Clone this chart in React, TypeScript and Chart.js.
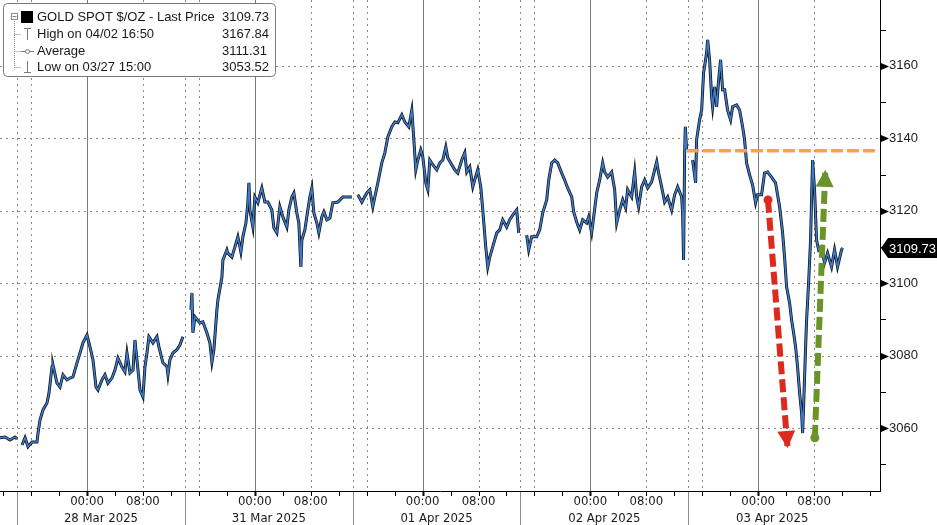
import React, { useEffect, useRef } from 'react';
import { Chart, registerables } from 'chart.js';

Chart.register(...registerables);

// ---------- data ----------
const TITLE = 'GOLD SPOT $/OZ - Last Price';
const legendLabels = ['GOLD SPOT $/OZ - Last Price', 'High on 04/02 16:50', 'Average', 'Low on 03/27 15:00'];
const legendValues = ['3109.73', '3167.84', '3111.31', '3053.52'];
const lastPrice = 3109.73;

// hours relative to 28 Mar 00:00 (weekend removed, 24h per trading day)
const s0Hours = [-12.44, -11.72, -11.01, -10.29, -10.0];
const s0Prices = [3057.3, 3057.5, 3056.7, 3057.5, 3057.0];

const s1Hours = [-9.29, -8.86, -8.43, -7.86, -7.15, -7.0, -6.72, -6.29, -5.72, -5.43, -5.0, -4.86, -4.29, -3.86, -3.43, -2.86, -2.43, -2.0, -1.43, -1.0, -0.57, 0, 0.43, 0.86, 1.29, 1.57, 2.14, 2.57, 3.0, 3.57, 4.0, 4.43, 5.0, 5.43, 5.72, 6.15, 6.58, 6.86, 7.15, 7.58, 8.0, 8.29, 8.58, 8.86, 9.43, 10.0, 10.29, 10.86, 11.44, 11.58, 11.86, 12.29, 12.86, 13.29, 13.72];
const s1Prices = [3055.3, 3057.3, 3054.8, 3056.1, 3056.1, 3058.6, 3062.2, 3065.0, 3066.9, 3069.7, 3076.9, 3077.4, 3072.4, 3071.3, 3074.7, 3073.3, 3073.8, 3074.1, 3078.0, 3080.7, 3083.5, 3085.7, 3082.4, 3078.8, 3071.3, 3070.5, 3073.3, 3074.7, 3072.4, 3073.8, 3076.0, 3079.3, 3076.9, 3075.5, 3080.7, 3075.2, 3076.0, 3084.3, 3078.8, 3070.5, 3068.6, 3076.9, 3080.7, 3085.2, 3083.5, 3085.2, 3082.4, 3078.0, 3076.9, 3074.7, 3078.8, 3080.7, 3081.6, 3082.9, 3085.2];

const s2Hours = [14.87, 15.01, 15.15, 15.44, 16.15, 16.58, 17.15, 17.58, 17.87, 18.15, 18.58, 18.73, 19.30, 19.44, 20.01, 20.15, 20.73, 21.16, 21.58, 22.01, 22.30, 22.73, 23.01, 23.16, 23.30, 23.73, 24.01, 24.44, 24.73, 25.01, 25.44, 25.87, 26.44, 26.73, 27.16, 27.59, 28.02, 28.59, 28.87, 29.30, 29.59, 30.02, 30.30, 30.59, 30.73, 31.16, 31.59, 31.88, 32.16, 32.45, 32.88, 33.16, 33.59, 33.88, 34.31, 34.74, 35.16, 35.88, 36.59, 37.31, 37.88];
const s2Prices = [3092.6, 3097.3, 3086.3, 3090.7, 3089.0, 3089.3, 3086.3, 3083.5, 3078.2, 3081.6, 3092.6, 3095.4, 3101.7, 3106.4, 3109.2, 3108.3, 3107.2, 3110.0, 3112.8, 3108.6, 3112.8, 3116.6, 3122.2, 3127.7, 3120.2, 3115.5, 3123.8, 3122.2, 3124.4, 3126.3, 3122.4, 3122.4, 3120.2, 3115.3, 3113.9, 3121.1, 3118.3, 3115.5, 3120.2, 3123.8, 3124.9, 3119.4, 3116.6, 3104.5, 3111.9, 3114.7, 3120.2, 3123.8, 3126.3, 3119.4, 3116.6, 3113.9, 3118.3, 3119.7, 3117.5, 3118.0, 3122.2, 3122.4, 3123.8, 3123.8, 3123.8];

const s3Hours = [38.74, 39.31, 40.02, 40.45, 40.88, 41.17, 41.60, 42.17, 42.60, 43.03, 43.60, 44.03, 44.46, 45.03, 45.46, 46.03, 46.46, 46.75, 47.03, 47.32, 47.74, 48.03, 48.46, 48.75, 49.03, 49.46, 50.03, 50.46, 50.89, 51.32, 51.60, 52.17, 52.60, 53.03, 53.60, 54.03, 54.32, 54.75, 55.18, 55.46, 55.89, 56.32, 56.61, 57.03, 57.32, 57.61, 58.03, 58.61, 59.03, 59.46, 60.03, 60.46, 60.89, 61.46, 61.75];
const s3Prices = [3124.4, 3122.4, 3124.9, 3125.8, 3121.1, 3123.8, 3127.7, 3133.2, 3136.0, 3140.4, 3143.2, 3144.5, 3144.3, 3146.5, 3144.5, 3143.2, 3147.8, 3139.6, 3131.3, 3134.0, 3136.8, 3134.9, 3127.7, 3125.8, 3134.0, 3132.7, 3131.3, 3133.2, 3134.0, 3137.6, 3134.6, 3132.7, 3131.3, 3130.4, 3134.0, 3136.0, 3130.7, 3132.1, 3126.6, 3128.5, 3131.3, 3126.6, 3120.2, 3110.0, 3104.5, 3107.2, 3110.0, 3113.9, 3114.7, 3117.5, 3115.5, 3117.5, 3118.8, 3120.2, 3113.9];

const s4Hours = [62.89, 63.18, 63.60, 64.32, 64.75, 65.18, 65.75, 66.04, 66.47, 66.90, 67.32, 67.90, 68.32, 68.75, 69.33, 69.61, 70.04, 70.47, 70.90, 71.47, 71.76, 72.18, 72.47, 72.90, 73.33, 73.76, 74.04, 74.47, 75.04, 75.47, 75.76, 76.19, 76.62, 77.04, 77.33, 77.90, 78.33, 78.62, 78.90, 79.33, 79.76, 80.19, 80.76, 81.19, 81.48, 81.76, 82.19, 82.62, 83.05, 83.62, 84.05, 84.48, 85.05, 85.19, 85.33, 85.48, 85.58, 85.76];
const s4Prices = [3113.3, 3109.2, 3112.8, 3112.8, 3114.7, 3119.4, 3123.0, 3128.5, 3133.2, 3134.0, 3133.2, 3130.4, 3128.5, 3126.3, 3123.8, 3119.7, 3116.9, 3114.7, 3117.5, 3116.6, 3118.3, 3113.9, 3118.3, 3124.9, 3128.5, 3133.2, 3130.7, 3129.3, 3130.7, 3125.8, 3116.6, 3120.2, 3123.0, 3120.8, 3125.8, 3123.8, 3130.7, 3123.8, 3121.1, 3126.6, 3128.5, 3126.3, 3128.0, 3131.3, 3133.5, 3130.4, 3126.6, 3122.4, 3123.8, 3120.2, 3124.4, 3126.6, 3123.8, 3119.4, 3106.4, 3136.0, 3143.2, 3136.8];

const s5Hours = [86.62, 87.05, 87.19, 87.62, 87.91, 88.19, 88.62, 88.77, 89.05, 89.34, 89.48, 89.77, 90.05, 90.34, 90.62, 90.91, 91.20, 91.62, 92.05, 92.34, 92.91, 93.34, 93.77, 94.05, 94.34, 94.77, 95.20, 95.63, 95.91, 96.48, 96.91, 97.34, 97.91, 98.48, 99.06, 99.49, 99.77, 100.06, 100.49, 100.78, 101.06, 101.35, 101.63, 101.92, 102.21, 102.35, 102.49, 102.78, 102.92, 103.21, 103.49, 103.64, 103.78, 104.06, 104.35, 104.64, 105.06, 105.49, 105.92, 106.49, 106.92, 107.35, 107.92, 108.06];
const s5Prices = [3134.0, 3127.7, 3139.6, 3145.1, 3147.8, 3158.1, 3163.6, 3167.2, 3161.7, 3151.4, 3148.7, 3154.2, 3148.7, 3156.1, 3161.7, 3153.4, 3153.4, 3147.8, 3145.1, 3148.7, 3149.2, 3147.8, 3143.2, 3139.6, 3133.2, 3129.9, 3127.1, 3122.2, 3124.4, 3124.4, 3130.4, 3130.7, 3129.3, 3127.7, 3121.1, 3113.9, 3107.2, 3099.0, 3094.5, 3089.8, 3086.3, 3082.4, 3076.9, 3069.7, 3064.2, 3058.6, 3065.8, 3082.4, 3089.8, 3100.1, 3111.9, 3123.8, 3134.0, 3125.8, 3111.9, 3109.2, 3110.0, 3105.6, 3108.3, 3104.5, 3109.2, 3104.5, 3109.2, 3109.73];

// axis
const dayLabels = ['28 Mar 2025', '31 Mar 2025', '01 Apr 2025', '02 Apr 2025', '03 Apr 2025'];
const dayCenters = [2, 26, 50, 74, 98];
const midnights = [0, 24, 48, 72, 96];
const mornings = [8, 32, 56, 80, 104];
const sessionBreaks = [-10, 14, 38, 62, 86];
const sessionMarks = [-8, 16, 40, 64, 88];
const xMinorTicks = [-12, -8, -4, 0, 4, 8, 12, 16, 20, 24, 28, 32, 36, 40, 44, 48, 52, 56, 60, 64, 68, 72, 76, 80, 84, 88, 92, 96, 100, 104, 108, 112];
const yTicks = [3050, 3060, 3070, 3080, 3090, 3100, 3110, 3120, 3130, 3140, 3150, 3160, 3170];
const yLabelTicks = [3060, 3080, 3100, 3120, 3140, 3160];
const X_MIN = -12.44;
const X_MAX = 113.42;
const Y_MIN = 3042.6;
const Y_MAX = 3178.2;

// annotations
const resistanceHours = [85.8, 112.9];
const resistanceLevel = 3136.6;
const redArrowHours = [97.4, 100.2];
const redArrowPrices = [3123.0, 3054.5];
const greenArrowHours = [104.1, 105.6];
const greenArrowPrices = [3057.3, 3131.3];

const RED = '#dc2a1f';
const GREEN = '#6a9427';
const ORANGE = '#f2a541';
const BLUE = '#3b7dd0';
const AXIS_FONT = "'DejaVu Sans Condensed', 'Liberation Sans Narrow', 'DejaVu Sans', sans-serif";
const LABEL_FONT = "'Liberation Sans', Arial, sans-serif";

const sessions: [number[], number[]][] = [
  [s0Hours, s0Prices], [s1Hours, s1Prices], [s2Hours, s2Prices],
  [s3Hours, s3Prices], [s4Hours, s4Prices], [s5Hours, s5Prices],
];

function buildPoints() {
  const pts: { x: number; y: number | null }[] = [];
  sessions.forEach(([hs, ps], i) => {
    if (i > 0) {
      const prev = sessions[i - 1][0];
      pts.push({ x: (prev[prev.length - 1] + hs[0]) / 2, y: null });
    }
    hs.forEach((h, j) => pts.push({ x: h, y: ps[j] }));
  });
  return pts;
}

const bgPlugin = {
  id: 'bg',
  beforeDraw(chart: any) {
    const { ctx, width, height } = chart;
    ctx.save();
    ctx.fillStyle = '#ffffff';
    ctx.fillRect(0, 0, width, height);
    ctx.restore();
  },
};

const gridPlugin = {
  id: 'grid',
  beforeDatasetsDraw(chart: any) {
    const { ctx, chartArea: a, scales } = chart;
    const xs = scales.x;
    const ys = scales.y;
    ctx.save();
    ctx.lineWidth = 1;
    // horizontal dotted
    ctx.strokeStyle = '#8a8a8a';
    ctx.setLineDash([2, 4]);
    yLabelTicks.forEach((v) => {
      const py = Math.round(ys.getPixelForValue(v)) + 0.5;
      ctx.beginPath();
      ctx.moveTo(a.left, py);
      ctx.lineTo(a.right, py);
      ctx.stroke();
    });
    // vertical dotted
    [...sessionBreaks, ...sessionMarks, ...mornings].forEach((h) => {
      const px = Math.round(xs.getPixelForValue(h)) + 0.5;
      ctx.beginPath();
      ctx.moveTo(px, a.top);
      ctx.lineTo(px, a.bottom);
      ctx.stroke();
    });
    ctx.setLineDash([]);
    // solid midnight lines
    ctx.strokeStyle = '#7a7a7a';
    midnights.forEach((h) => {
      const px = Math.round(xs.getPixelForValue(h)) + 0.5;
      ctx.beginPath();
      ctx.moveTo(px, a.top);
      ctx.lineTo(px, a.bottom);
      ctx.stroke();
    });
    ctx.restore();
  },
  afterDatasetsDraw(chart: any) {
    const { ctx, scales } = chart;
    const xs = scales.x;
    const ys = scales.y;
    const heads: [number[], number[], string][] = [
      [redArrowHours, redArrowPrices, RED],
      [greenArrowHours, greenArrowPrices, GREEN],
    ];
    ctx.save();
    heads.forEach(([hs, ps, col]) => {
      const x0 = xs.getPixelForValue(hs[0]);
      const y0 = ys.getPixelForValue(ps[0]);
      const x1 = xs.getPixelForValue(hs[1]);
      const y1 = ys.getPixelForValue(ps[1]);
      const ang = Math.atan2(y1 - y0, x1 - x0);
      const len = 17;
      const half = 9;
      const bx = x1 - Math.cos(ang) * len;
      const by = y1 - Math.sin(ang) * len;
      ctx.fillStyle = col;
      ctx.beginPath();
      ctx.moveTo(x1, y1);
      ctx.lineTo(bx + Math.sin(ang) * half, by - Math.cos(ang) * half);
      ctx.lineTo(bx - Math.sin(ang) * half, by + Math.cos(ang) * half);
      ctx.closePath();
      ctx.fill();
    });
    ctx.restore();
  },
  afterDraw(chart: any) {
    const { ctx, chartArea: a, scales, width, height } = chart;
    const xs = scales.x;
    const ys = scales.y;
    ctx.save();
    // axis lines
    ctx.strokeStyle = '#000';
    ctx.lineWidth = 1;
    ctx.beginPath();
    ctx.moveTo(0, a.bottom + 0.5);
    ctx.lineTo(a.right + 1, a.bottom + 0.5);
    ctx.moveTo(a.right + 0.5, 0);
    ctx.lineTo(a.right + 0.5, a.bottom + 1);
    ctx.stroke();
    // x tick marks
    xMinorTicks.forEach((h) => {
      const px = Math.round(xs.getPixelForValue(h)) + 0.5;
      if (px < 0 || px > a.right) return;
      const isMid = midnights.includes(h);
      ctx.lineWidth = isMid ? 2 : 1;
      ctx.beginPath();
      ctx.moveTo(px, a.bottom);
      ctx.lineTo(px, a.bottom + 5);
      ctx.stroke();
    });
    ctx.lineWidth = 1;
    // session separators in label area
    ctx.strokeStyle = '#8a8a8a';
    sessionBreaks.forEach((h) => {
      const px = Math.round(xs.getPixelForValue(h)) + 0.5;
      ctx.beginPath();
      ctx.moveTo(px, a.bottom + 1);
      ctx.lineTo(px, height);
      ctx.stroke();
    });
    // y ticks
    ctx.strokeStyle = '#000';
    ctx.fillStyle = '#000';
    yTicks.forEach((v) => {
      const py = Math.round(ys.getPixelForValue(v)) + 0.5;
      if (yLabelTicks.includes(v)) {
        ctx.beginPath();
        ctx.moveTo(a.right + 1, py - 3.5);
        ctx.lineTo(a.right + 9, py);
        ctx.lineTo(a.right + 1, py + 3.5);
        ctx.closePath();
        ctx.fill();
      } else {
        ctx.beginPath();
        ctx.moveTo(a.right + 1, py);
        ctx.lineTo(a.right + 6, py);
        ctx.stroke();
      }
    });
    // last price tag
    const ly = Math.round(ys.getPixelForValue(lastPrice));
    ctx.fillStyle = '#000';
    ctx.beginPath();
    ctx.moveTo(a.right + 1, ly);
    ctx.lineTo(a.right + 8, ly - 10);
    ctx.lineTo(width, ly - 10);
    ctx.lineTo(width, ly + 10);
    ctx.lineTo(a.right + 8, ly + 10);
    ctx.closePath();
    ctx.fill();
    ctx.fillStyle = '#fff';
    ctx.font = `13px ${LABEL_FONT}`;
    ctx.textBaseline = 'middle';
    ctx.textAlign = 'left';
    ctx.fillText(String(lastPrice), a.right + 9, ly + 1);

    // legend box
    ctx.fillStyle = '#fff';
    ctx.strokeStyle = '#7a7a7a';
    ctx.beginPath();
    (ctx as any).roundRect(3.5, 3.5, 272, 73, 4);
    ctx.fill();
    ctx.stroke();
    // tree
    ctx.strokeStyle = '#8a8a8a';
    ctx.setLineDash([1, 1]);
    ctx.beginPath();
    ctx.moveTo(14.5, 21);
    ctx.lineTo(14.5, 67.5);
    [34.5, 51.5, 67.5].forEach((yy) => {
      ctx.moveTo(14.5, yy);
      ctx.lineTo(21, yy);
    });
    ctx.stroke();
    ctx.setLineDash([]);
    ctx.strokeRect(11.5, 13.5, 6, 6);
    ctx.beginPath();
    ctx.moveTo(12.5, 16.5);
    ctx.lineTo(16.5, 16.5);
    ctx.stroke();
    ctx.fillStyle = '#000';
    ctx.fillRect(21, 11, 12, 12);
    ctx.strokeStyle = '#7a7a7a';
    ctx.beginPath();
    ctx.moveTo(27.5, 28);
    ctx.lineTo(27.5, 40);
    ctx.moveTo(24, 28.5);
    ctx.lineTo(31, 28.5);
    ctx.moveTo(21, 51.5);
    ctx.lineTo(34, 51.5);
    ctx.moveTo(27.5, 61);
    ctx.lineTo(27.5, 72);
    ctx.moveTo(24, 72.5);
    ctx.lineTo(31, 72.5);
    ctx.stroke();
    ctx.fillStyle = '#fff';
    ctx.beginPath();
    ctx.arc(27.5, 51.5, 2, 0, Math.PI * 2);
    ctx.fill();
    ctx.stroke();
    ctx.fillStyle = '#1a1a1a';
    ctx.font = `13px ${LABEL_FONT}`;
    ctx.textBaseline = 'middle';
    const rows = [17, 34, 51, 67];
    legendLabels.forEach((t, i) => {
      ctx.textAlign = 'left';
      ctx.fillText(t, 37, rows[i]);
      ctx.fillText(legendValues[i], 222, rows[i]);
    });
    ctx.restore();
  },
};

export default function App() {
  const ref = useRef<HTMLCanvasElement>(null);
  useEffect(() => {
    document.body.style.margin = '0';
    const canvas = ref.current!;
    const pts = buildPoints();
    const resistancePts = resistanceHours.map((h) => ({ x: h, y: resistanceLevel }));
    const redPts = redArrowHours.map((h, i) => ({ x: h, y: redArrowPrices[i] }));
    const greenPts = greenArrowHours.map((h, i) => ({ x: h, y: greenArrowPrices[i] }));
    const xTickVals = [...midnights, ...mornings, ...dayCenters];
    const chart = new Chart(canvas, {
      type: 'line',
      data: {
        datasets: [
          {
            label: 'drop',
            data: redPts,
            borderColor: RED,
            borderWidth: 6,
            borderDash: [13, 5],
            pointRadius: (c: any) => (c.dataIndex === 0 ? 4.5 : 0),
            pointBackgroundColor: RED,
            pointBorderWidth: 0,
            order: 0,
          },
          {
            label: 'rebound',
            data: greenPts,
            borderColor: GREEN,
            borderWidth: 6,
            borderDash: [13, 5],
            pointRadius: (c: any) => (c.dataIndex === 0 ? 4.5 : 0),
            pointBackgroundColor: GREEN,
            pointBorderWidth: 0,
            order: 0,
          },
          {
            label: 'resistance',
            data: resistancePts,
            borderColor: ORANGE,
            borderWidth: 3.5,
            borderDash: [12, 4],
            pointRadius: 0,
            order: 1,
          },
          {
            label: TITLE,
            data: pts,
            borderColor: BLUE,
            borderWidth: 1.5,
            pointRadius: 0,
            spanGaps: false,
            order: 2,
          },
          {
            label: 'bars',
            data: pts,
            borderColor: '#111111',
            borderWidth: 3,
            pointRadius: 0,
            spanGaps: false,
            order: 3,
          },
        ] as any,
      },
      options: {
        responsive: false,
        animation: false,
        events: [],
        layout: { padding: 0, autoPadding: false } as any,
        elements: { line: { tension: 0, borderJoinStyle: 'miter' } },
        plugins: { legend: { display: false }, tooltip: { enabled: false } },
        scales: {
          x: {
            type: 'linear',
            min: X_MIN,
            max: X_MAX,
            grid: { display: false, drawTicks: false },
            border: { display: false },
            afterBuildTicks: (s: any) => {
              s.ticks = xTickVals.map((v) => ({ value: v }));
            },
            afterFit: (s: any) => {
              s.height = 34;
              s.paddingLeft = 0;
              s.paddingRight = 0;
              s.paddingTop = 0;
              s.paddingBottom = 0;
            },
            ticks: {
              autoSkip: false,
              maxRotation: 0,
              minRotation: 0,
              padding: 2,
              color: '#1a1a1a',
              font: { family: AXIS_FONT, size: 13, lineHeight: 1.3 },
              callback: (v: any) => {
                const n = Number(v);
                if (midnights.includes(n)) return '00:00';
                if (mornings.includes(n)) return '08:00';
                const k = dayCenters.indexOf(n);
                if (k >= 0) return ['', dayLabels[k]];
                return '';
              },
            },
          },
          y: {
            type: 'linear',
            position: 'right',
            min: Y_MIN,
            max: Y_MAX,
            grid: { display: false, drawTicks: false },
            border: { display: false },
            afterBuildTicks: (s: any) => {
              s.ticks = yTicks.map((v) => ({ value: v }));
            },
            afterFit: (s: any) => {
              s.width = 57;
              s.paddingLeft = 0;
              s.paddingRight = 0;
              s.paddingTop = 0;
              s.paddingBottom = 0;
            },
            ticks: {
              autoSkip: false,
              padding: 9,
              color: '#1a1a1a',
              font: { family: LABEL_FONT, size: 13 },
              callback: (v: any) => (yLabelTicks.includes(Number(v)) ? String(v) : ''),
            },
          },
        },
      } as any,
      plugins: [bgPlugin, gridPlugin],
    });
    return () => chart.destroy();
  }, []);
  return (
    <div style={{ width: 937, height: 525 }}>
      <canvas ref={ref} width={937} height={525} style={{ display: 'block' }} />
    </div>
  );
}
